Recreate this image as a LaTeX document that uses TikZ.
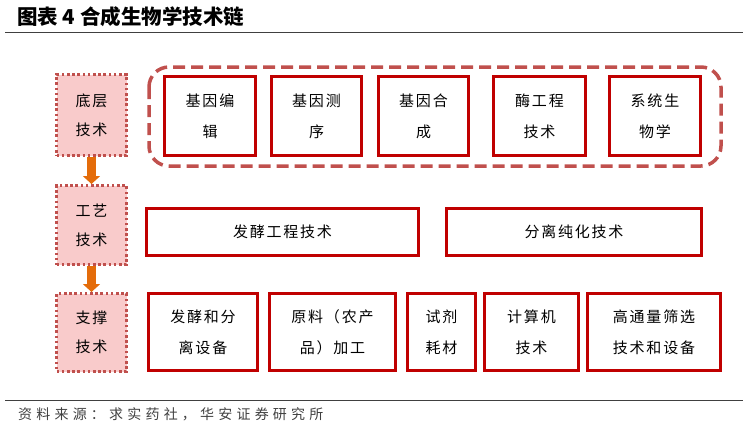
\documentclass[tikz,border=0pt]{standalone}
\usepackage{fontspec}
\setmainfont{Noto Sans CJK SC}
\newfontfamily\boxfont[LetterSpace=12]{Noto Sans CJK SC}
\newfontfamily\srcfont[LetterSpace=30]{Noto Sans CJK SC}
\usetikzlibrary{arrows.meta}
\definecolor{boxred}{HTML}{C00000}
\definecolor{dashred}{HTML}{C0504D}
\definecolor{pinkfill}{HTML}{F9CBCB}
\definecolor{dotred}{HTML}{C0504D}
\definecolor{arrorange}{HTML}{E46C0A}
\definecolor{rulegray}{HTML}{404040}
\begin{document}
\begin{tikzpicture}[x=1pt,y=-1pt,
  techbox/.style={draw=boxred, line width=3pt, fill=white, inner sep=0pt, align=center,
    font={\boxfont\fontsize{15}{31}\selectfont}},
  levelbox/.style={draw=dotred, line width=3pt, dash pattern=on 2.6pt off 2.6pt, fill=pinkfill,
    inner sep=0pt, align=center, minimum width=70pt, font={\boxfont\fontsize{15}{29}\selectfont}},
  groupbox/.style={draw=dashred, line width=3.5pt, dash pattern=on 12pt off 6pt, rounded corners=20pt},
  levelarrow/.style={draw=arrorange, line width=9pt, -{Triangle[width=17pt,length=8pt]}},
  rulefine/.style={draw=rulegray, line width=1.5pt}
]
\useasboundingbox (0,0) rectangle (748,429);
% title and rules
\node[anchor=west, inner sep=0pt, font={\bfseries\fontsize{20.5}{22}\selectfont}] (title) at (17,17) {图表 4 合成生物学技术链};
\coordinate (t1) at (5,32.5); \coordinate (t2) at (743,32.5);
\draw[rulefine] (t1) -- (t2);
\coordinate (b1) at (5,400.5); \coordinate (b2) at (743,400.5);
\draw[rulefine, line width=1pt] (b1) -- (b2);
\node[anchor=west, inner sep=0pt, text=rulegray, font={\srcfont\fontsize{14}{16}\selectfont}] (src) at (18,414) {资料来源：求实药社，华安证券研究所};

% group box
\coordinate (g1) at (149,67); \coordinate (g2) at (721,166);
\draw[groupbox] (g1) rectangle (g2);

% level boxes
\node[levelbox, minimum height=81pt] (L1) at (91.5,115) {底层\\技术};
\node[levelbox, minimum height=79pt] (L2) at (91.5,225) {工艺\\技术};
\node[levelbox, minimum height=78pt] (L3) at (91.5,332.5) {支撑\\技术};
\draw[levelarrow] (L1.south) -- (L2.north);
\draw[levelarrow] (L2.south) -- (L3.north);

% top row
\node[techbox, minimum width=91pt, minimum height=79pt] (a1) at (210,116) {基因编\\辑};
\node[techbox, minimum width=90pt, minimum height=79pt] (a2) at (316.5,116) {基因测\\序};
\node[techbox, minimum width=90pt, minimum height=79pt] (a3) at (423.5,116) {基因合\\成};
\node[techbox, minimum width=92pt, minimum height=79pt] (a4) at (539.5,116) {酶工程\\技术};
\node[techbox, minimum width=91pt, minimum height=79pt] (a5) at (655,116) {系统生\\物学};

% middle row
\node[techbox, minimum width=272pt, minimum height=47pt] (m1) at (282.5,232) {发酵工程技术};
\node[techbox, minimum width=255pt, minimum height=47pt] (m2) at (574,232) {分离纯化技术};

% bottom row
\node[techbox, minimum width=109pt, minimum height=77pt] (c1) at (203,332) {发酵和分\\离设备};
\node[techbox, minimum width=126pt, minimum height=77pt] (c2) at (332.5,332) {原料（农产\\品）加工};
\node[techbox, minimum width=68pt, minimum height=77pt] (c3) at (441.5,332) {试剂\\耗材};
\node[techbox, minimum width=94pt, minimum height=77pt] (c4) at (531.5,332) {计算机\\技术};
\node[techbox, minimum width=133pt, minimum height=77pt] (c5) at (654,332) {高通量筛选\\技术和设备};
\end{tikzpicture}
\end{document}
